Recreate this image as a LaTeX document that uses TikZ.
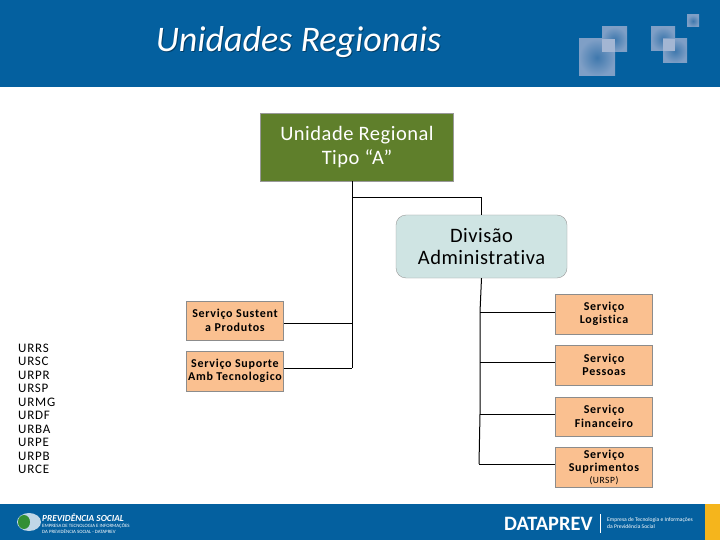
\documentclass[tikz,border=0pt]{standalone}
\usepackage{fontspec}
\setmainfont{Carlito}[Ligatures=NoCommon]
\newfontfamily\boxfont[LetterSpace=2.5,Ligatures=NoCommon]{Carlito}
\newfontfamily\smallfont[LetterSpace=6,Ligatures=NoCommon]{Carlito}
\definecolor{bandblue}{HTML}{04609F}
\definecolor{urgreen}{HTML}{5F7F2B}
\definecolor{divcyan}{HTML}{CFE4E3}
\definecolor{svcorange}{HTML}{FAC090}
\definecolor{footyellow}{HTML}{F5B51C}
\definecolor{decoedge}{HTML}{7F9FC6}
\definecolor{decocore}{HTML}{3F78AD}
\definecolor{decolap}{HTML}{A3B6D3}
\tikzset{
	svcbox/.style={draw=black!45, fill=svcorange, line width=0.8pt, minimum width=97pt, inner sep=0pt, align=center, font=\smallfont\bfseries\fontsize{12}{13.5}\selectfont},
	branch/.style={line width=1pt, black},
	deco/.style={inner color=decocore, outer color=decoedge}
}
\begin{document}
\begin{tikzpicture}[x=1pt, y=-1pt]
	\useasboundingbox (0,0) rectangle (720,540);
	\fill[white] (0,0) rectangle (720,540);
	% faixas
	\fill[bandblue] (0,0) rectangle (720,87);
	\fill[bandblue] (0,504) rectangle (720,540);
	\fill[footyellow] (705,504) rectangle (720,540);
	% quadrados
	\shade[deco] (579,39) rectangle (615,76);
	\shade[deco] (602,27) rectangle (627,52);
	\fill[decolap] (602,39) rectangle (615,52);
	\shade[deco] (651,27) rectangle (675,51);
	\shade[deco] (663,39) rectangle (687,63);
	\fill[decolap] (663,39) rectangle (675,51);
	\shade[deco] (687,15) rectangle (699,27);
	% titulo
	\node[text=black!35!bandblue, font=\itshape\fontsize{36}{40}\selectfont] (titleshadow) at (299.5,43.5) {Unidades Regionais};
	\node[text=white, font=\itshape\fontsize{36}{40}\selectfont] (title) at (298.5,42) {Unidades Regionais};

	% caixas
	\node[draw=black!40, fill=urgreen, text=white, minimum width=193pt, minimum height=68pt, align=center, font=\boxfont\fontsize{20.5}{24}\selectfont] (ur) at (357,147) {Unidade Regional\\Tipo “A”};
	\node[draw=black!40, fill=divcyan, rounded corners=10pt, minimum width=171pt, minimum height=63pt, align=center, font=\boxfont\fontsize{20.5}{22}\selectfont] (div) at (481.5,246.5) {Divisão\\Administrativa};

	\node[svcbox, minimum height=39pt] (sustent) at (235,320.5) {Serviço Sustent\\a Produtos};
	\node[svcbox, minimum height=40pt] (suporte) at (235,371) {Serviço Suporte\\Amb Tecnologico};

	\node[svcbox, minimum height=40pt] (logistica) at (604,314) {Serviço\\Logistica};
	\node[svcbox, minimum height=40pt] (pessoas) at (604,365) {Serviço\\Pessoas};
	\node[svcbox, minimum height=39pt] (financeiro) at (604,416.5) {Serviço\\Financeiro};
	\node[svcbox, minimum height=40pt] (suprimentos) at (604,467) {Serviço\\Suprimentos\\[-2pt]{\mdseries\fontsize{9.5}{10}\selectfont (URSP)}};

	\node[anchor=north west, inner sep=0pt, align=left, font=\smallfont\fontsize{13}{13.5}\selectfont] (lista) at (18,343.5) {URRS\\URSC\\URPR\\URSP\\URMG\\URDF\\URBA\\URPE\\URPB\\URCE};

	% ligacoes
	\coordinate (trunk) at (352,198);
	\coordinate (sustentjoin) at (352,323);
	\coordinate (suportejoin) at (352,368);
	\coordinate (logisticajoin) at (480,312);
	\coordinate (pessoasjoin) at (480,362);
	\coordinate (financeirojoin) at (480,414);
	\coordinate (suprimentosjoin) at (479,464);

	\draw[branch] (ur.south -| trunk) -- (suportejoin);
	\draw[branch] (trunk) -| (div.north);
	\draw[branch] (sustentjoin -| sustent.east) -- (sustentjoin);
	\draw[branch] (suportejoin -| suporte.east) -- (suportejoin);
	\draw[branch] (div.south) -- (logisticajoin) -- (pessoasjoin) -- (financeirojoin) -- (suprimentosjoin);
	\draw[branch] (logisticajoin) -- (logisticajoin -| logistica.west);
	\draw[branch] (pessoasjoin) -- (pessoasjoin -| pessoas.west);
	\draw[branch] (financeirojoin) -- (financeirojoin -| financeiro.west);
	\draw[branch] (suprimentosjoin) -- (suprimentosjoin -| suprimentos.west);

	% rodape
	\fill[white!75!bandblue] (29,522) ellipse (12pt and 9pt);
	\fill[green!45!black!80!white] (24,522) ellipse (6pt and 7pt);
	\node[anchor=west, inner sep=0pt, text=white, font=\itshape\bfseries\fontsize{9.3}{9}\selectfont] (previdencia) at (42,518) {PREVIDÊNCIA SOCIAL};
	\node[anchor=north west, inner sep=0pt, text=white, align=left, font=\fontsize{4.9}{5.4}\selectfont] (previdenciasub) at (42,523.5) {EMPRESA DE TECNOLOGIA E INFORMAÇÕES\\DA PREVIDÊNCIA SOCIAL - DATAPREV};
	\node[anchor=west, inner sep=0pt, text=white, font=\bfseries\fontsize{20.4}{20}\selectfont] (dataprev) at (504,523.5) {DATAPREV};
	\draw[white, line width=0.7pt] (600,514) -- (600,533);
	\node[anchor=west, inner sep=0pt, text=white, align=left, font=\fontsize{5.6}{7.5}\selectfont] (dataprevsub) at (607,523) {Empresa de Tecnologia e Informações\\da Previdência Social};
\end{tikzpicture}
\end{document}
